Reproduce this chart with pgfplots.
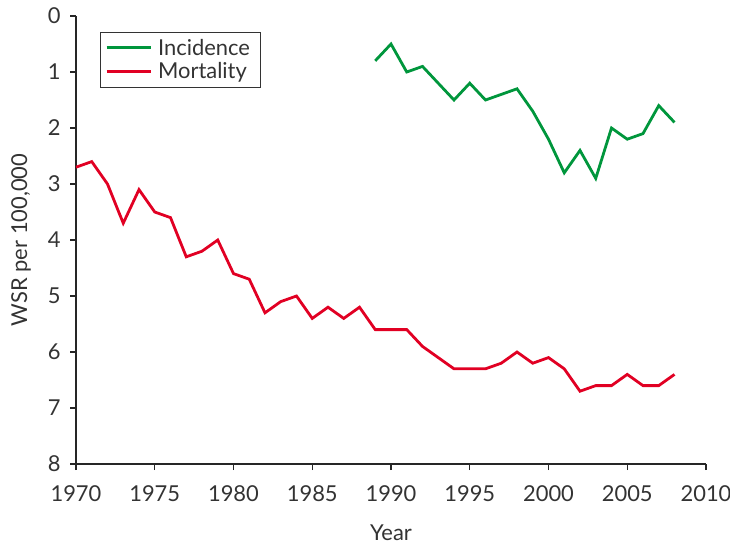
\documentclass[border=0pt]{standalone}
\usepackage{pgfplots}
\pgfplotsset{compat=1.18}
\usepackage{fontspec}
\setmainfont{Lato}
\definecolor{incg}{RGB}{0,150,60}
\definecolor{mortr}{RGB}{225,0,35}
\begin{document}
\begin{tikzpicture}
\useasboundingbox (-76bp,-80bp) rectangle (654bp,464bp);
\begin{axis}[
  at={(0,0)}, anchor=south west,
  width=630bp, height=448bp, scale only axis,
  xmin=1970, xmax=2010, ymin=0, ymax=8,
  y dir=reverse,
  axis x line*=bottom, axis y line*=left,
  xtick={1970,1975,...,2010}, ytick={0,1,...,8},
  tick align=outside, major tick length=6bp,
  x tick label style={/pgf/number format/1000 sep={}, yshift=-12bp},
  y tick label style={xshift=-6bp},
  /pgf/number format/assume math mode=true,
  tick label style={font=\fontsize{22}{26}\selectfont, text=black!80},
  label style={font=\fontsize{22}{26}\selectfont, text=black!80},
  xlabel={Year}, ylabel={WSR per 100,000},
  xlabel style={yshift=-16bp},
  ylabel style={yshift=10bp},
  axis line style={line width=1.4pt, black!85},
  tick style={line width=1.4pt, black!85},
  legend style={at={(0.038,0.965)}, anchor=north west, draw=black!80, line width=0.8pt,
    font=\fontsize{22}{26}\selectfont, text=black!80, row sep=2pt, inner xsep=5pt, inner ysep=5pt,
    nodes={inner xsep=6pt}},
  legend cell align=left,
  legend image post style={line width=2.8pt},
  legend image code/.code={\draw[#1] (0bp,0bp) -- (44bp,0bp);},
]
\addplot[incg, line width=2.8pt] coordinates {
(1989,0.8)(1990,0.5)(1991,1.0)(1992,0.9)(1993,1.2)(1994,1.5)(1995,1.2)(1996,1.5)(1997,1.4)(1998,1.3)(1999,1.7)(2000,2.2)(2001,2.8)(2002,2.4)(2003,2.9)(2004,2.0)(2005,2.2)(2006,2.1)(2007,1.6)(2008,1.9)};
\addlegendentry{Incidence}
\addplot[mortr, line width=2.8pt] coordinates {
(1970,2.7)(1971,2.6)(1972,3.0)(1973,3.7)(1974,3.1)(1975,3.5)(1976,3.6)(1977,4.3)(1978,4.2)(1979,4.0)(1980,4.6)(1981,4.7)(1982,5.3)(1983,5.1)(1984,5.0)(1985,5.4)(1986,5.2)(1987,5.4)(1988,5.2)(1989,5.6)(1990,5.6)(1991,5.6)(1992,5.9)(1993,6.1)(1994,6.3)(1995,6.3)(1996,6.3)(1997,6.2)(1998,6.0)(1999,6.2)(2000,6.1)(2001,6.3)(2002,6.7)(2003,6.6)(2004,6.6)(2005,6.4)(2006,6.6)(2007,6.6)(2008,6.4)};
\addlegendentry{Mortality}
\end{axis}
\end{tikzpicture}
\end{document}
